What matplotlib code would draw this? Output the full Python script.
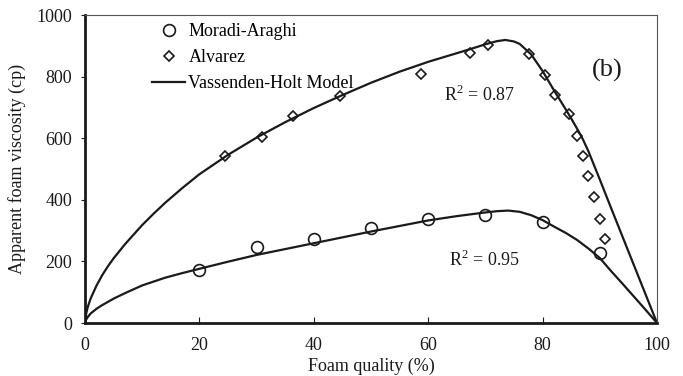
import matplotlib
matplotlib.use("Agg")
import matplotlib.pyplot as plt

plt.rcParams['font.family'] = ['Liberation Serif', 'DejaVu Serif']
plt.rcParams['mathtext.fontset'] = 'custom'
plt.rcParams['mathtext.rm'] = 'Liberation Serif'

# Experimental data
moradi_x = [20, 30, 40, 50, 60, 70, 80, 90]
moradi_y = [173, 246, 272, 309, 337, 351, 328, 226]

alvarez_x = [24.5, 30.9, 36.4, 44.5, 58.8, 67.3, 70.5, 77.6, 80.4, 82.2, 84.7, 86.0, 87.1, 87.9, 88.9, 90.1, 90.9]
alvarez_y = [542, 605, 672, 737, 808, 877, 903, 875, 805, 740, 677, 607, 542, 478, 410, 337, 272]

# Model curves
model_hi_x = [0, 0.2, 0.5, 1, 2, 3, 4, 5, 7, 10, 12, 14, 17, 20, 25, 30, 35, 40, 45, 50, 55, 60, 65, 68, 70, 72,
              73.5, 75, 76, 78, 80, 82, 84, 85, 86, 87, 88, 89, 90, 92, 94, 96, 98, 100]
model_hi_y = [0, 30, 53, 80, 121, 155, 184, 210, 256, 318, 355, 390, 438, 483, 546, 602, 652, 698, 740, 780, 816, 848, 876, 893, 905, 915,
              919, 914, 906, 872, 818, 755, 695, 664, 632, 598, 558, 512, 466, 372, 279, 186, 93, 0]

model_lo_x = [0, 0.2, 0.5, 1, 2, 3, 5, 7, 10, 14, 17, 20, 25, 30, 35, 40, 45, 50, 55, 60, 65, 70, 72, 74,
              76, 78, 80, 82, 84, 86, 88, 90, 92, 94, 96, 98, 100]
model_lo_y = [0, 11, 20, 31, 46, 58, 79, 97, 122, 147, 162, 176, 199, 221, 240, 259, 278, 297, 315, 333, 347, 359, 363, 365,
              361, 350, 334, 313, 293, 270, 242, 211, 168, 127, 85, 43, 0]

x_ticks = [0, 20, 40, 60, 80, 100]
y_ticks = [0, 200, 400, 600, 800, 1000]

fig = plt.figure(figsize=(6.83, 3.76), dpi=100)
ax = fig.add_axes([85/683, 53/376, 572/683, 308/376])

ax.plot(model_hi_x, model_hi_y, color='#1a1a1a', lw=1.6, zorder=2)
ax.plot(model_lo_x, model_lo_y, color='#1a1a1a', lw=1.6, zorder=2)
ax.plot(moradi_x, moradi_y, linestyle='none', marker='o', ms=8.5, mfc='none', mec='#1a1a1a', mew=1.2,
        label='Moradi-Araghi', zorder=3)
ax.plot(alvarez_x, alvarez_y, linestyle='none', marker='D', ms=5.5, mfc='none', mec='#1a1a1a', mew=1.2,
        label='Alvarez', zorder=3)
ax.plot([], [], color='#1a1a1a', lw=1.6, label='Vassenden-Holt Model')

ax.set_xlim(0, 100)
ax.set_ylim(0, 1000)
ax.set_xticks(x_ticks)
ax.set_yticks(y_ticks)
ax.tick_params(axis='x', direction='in', length=4, width=0.8, labelsize=13, pad=10, colors='#1a1a1a')
ax.tick_params(axis='y', direction='out', length=3, width=0.8, labelsize=13, pad=6, colors='#1a1a1a')

for s in ['left', 'bottom']:
    ax.spines[s].set_linewidth(2.0)
    ax.spines[s].set_color('#1a1a1a')
for s in ['top', 'right']:
    ax.spines[s].set_linewidth(0.8)
    ax.spines[s].set_color('#555555')

ax.set_xlabel('Foam quality (%)', fontsize=13, color='#1a1a1a', labelpad=3)
ax.set_ylabel('Apparent foam viscosity (cp)', fontsize=13, color='#1a1a1a', labelpad=8)

leg = ax.legend(loc='upper left', bbox_to_anchor=(0.105, 0.997), frameon=False, fontsize=13,
                handlelength=1.8, handletextpad=0.2, labelspacing=0.5, borderaxespad=0)

ax.text(69, 740, 'R$^2$ = 0.87', fontsize=13, ha='center', va='center', color='#1a1a1a')
ax.text(69.8, 205, 'R$^2$ = 0.95', fontsize=13, ha='center', va='center', color='#1a1a1a')
ax.text(91.3, 821, '(b)', fontsize=19, ha='center', va='center', color='#1a1a1a')

fig.savefig('out.png', dpi=100)
